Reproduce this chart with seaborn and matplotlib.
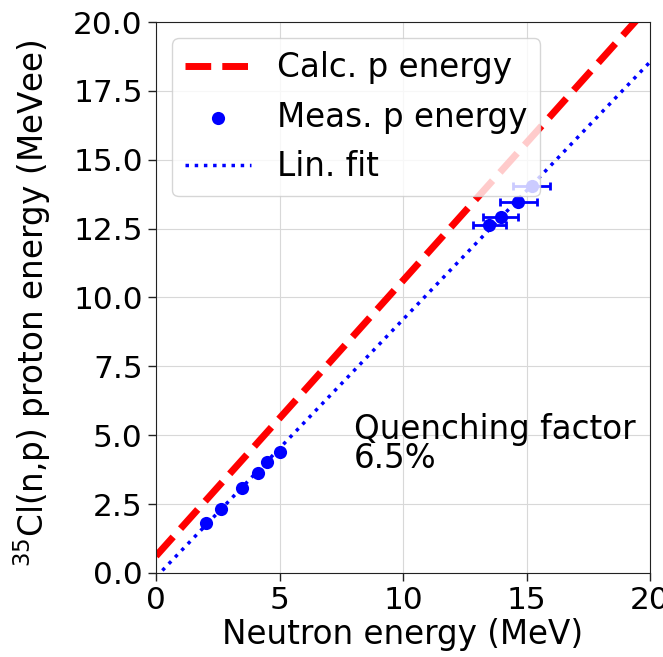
import matplotlib
matplotlib.use("Agg")
import matplotlib.pyplot as plt
import seaborn as sns
import numpy as np
import pandas as pd

# Data
meas_x = [2.02, 2.62, 3.47, 4.14, 4.51, 5.02, 13.50, 13.95, 14.67, 15.21]
meas_y = [1.80, 2.31, 3.10, 3.64, 4.04, 4.40, 12.63, 12.93, 13.48, 14.05]
meas_xerr = [0.0, 0.0, 0.0, 0.0, 0.0, 0.0, 0.68, 0.70, 0.74, 0.76]
calc_x = [0.0, 20.0]
calc_y = [0.615, 20.615]
fit_x = [0.0, 20.0]
fit_y = [-0.15, 18.55]
x_ticks = [0, 5, 10, 15, 20]
y_ticks = [0.0, 2.5, 5.0, 7.5, 10.0, 12.5, 15.0, 17.5, 20.0]

sns.set_style("ticks", {"axes.grid": True, "grid.color": "#d8d8d8",
                        "axes.edgecolor": "#222222"})
plt.rcParams['font.family'] = ['DejaVu Sans']
plt.rcParams.update({"text.color": "black", "axes.labelcolor": "black",
                     "xtick.color": "black", "ytick.color": "black"})

FS = 23.5
TFS = 22.5

fig = plt.figure(figsize=(6.63, 6.57), dpi=100)
ax = fig.add_axes([0.2353, 0.1279, 0.7451, 0.8386])

df_calc = pd.DataFrame({"x": calc_x, "y": calc_y})
df_fit = pd.DataFrame({"x": fit_x, "y": fit_y})
df_meas = pd.DataFrame({"x": meas_x, "y": meas_y})

sns.lineplot(data=df_calc, x="x", y="y", ax=ax, color="red", lw=5,
             linestyle="--", label="Calc. p energy", zorder=2)
ax.errorbar(meas_x, meas_y, xerr=meas_xerr, fmt="none", ecolor="blue",
            elinewidth=2, capsize=3, capthick=2, zorder=3)
sns.scatterplot(data=df_meas, x="x", y="y", ax=ax, color="blue", s=90,
                edgecolor="blue", linewidth=0, label="Meas. p energy", zorder=4)
sns.lineplot(data=df_fit, x="x", y="y", ax=ax, color="blue", lw=2.5,
             linestyle=":", label="Lin. fit", zorder=2)

ax.set_xlim(0, 20)
ax.set_ylim(0, 20)
ax.set_xticks(x_ticks)
ax.set_yticks(y_ticks)
ax.set_yticklabels([f"{v:.1f}" for v in y_ticks])
ax.tick_params(labelsize=TFS, length=6, width=1, color="#222222", pad=3.5)
ax.set_xlabel("Neutron energy (MeV)", fontsize=FS, labelpad=2)
ax.set_ylabel("$^{35}$Cl(n,p) proton energy (MeVee)", fontsize=FS)
ax.yaxis.set_label_coords(-0.2085, 0.49)

ax.text(8.0, 3.55, "Quenching factor\n6.5%", fontsize=FS, ha="left",
        va="bottom", linespacing=0.85)

leg = ax.legend(loc="upper left", fontsize=FS, framealpha=0.8)
leg.set_zorder(10)

fig.savefig("out.png", dpi=100)
